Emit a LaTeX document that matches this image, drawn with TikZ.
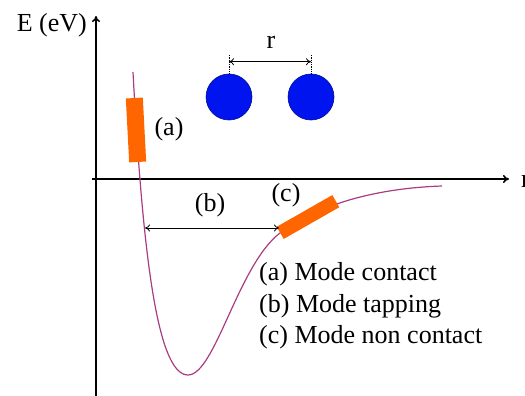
\documentclass[tikz,border=0pt]{standalone}
\usepackage{fontspec}
\setmainfont{Liberation Serif}
\usetikzlibrary{arrows.meta,calc,positioning}
\definecolor{curvecol}{RGB}{170,60,130}
\definecolor{tipcol}{RGB}{255,102,0}
\definecolor{atomcol}{RGB}{0,20,240}

\begin{document}
\begin{tikzpicture}[x=1pt, y=-1pt,
  axis/.style={line width=1.5pt, -{To[length=6pt,width=8pt]}},
  lbl/.style={font=\fontsize{26}{31}\selectfont, inner sep=0pt},
  tipbox/.style={fill=tipcol, draw=none, minimum width=17pt, minimum height=64pt, inner sep=0pt},
  atom/.style={circle, fill=atomcol, draw=atomcol!60!black, line width=0.6pt, minimum size=46pt, inner sep=0pt},
  dist/.style={line width=0.8pt, {To[length=5pt,width=7pt]}-{To[length=5pt,width=7pt]}}]
\useasboundingbox (0,0) rectangle (525,396);
% axes
\coordinate (o) at (96,179);
\coordinate (ytop) at (96,16);
\coordinate (xend) at (509,179);
\draw[axis] (96,396) -- (ytop);
\draw[axis] (92,179) -- (xend);
\node[lbl, anchor=east] (elabel) at (87,25) {E (eV)};
\node[lbl, anchor=west] (rlabel) at (521,181) {r};

% potential curve
\draw[curvecol, line width=1.2pt] (133,72)
  .. controls (143,260) and (158,375) .. (188,375)
  .. controls (215,375) and (238,265) .. (280,233)
  .. controls (320,203) and (380,188) .. (442,186);

% tips (a) and (c)
\node[tipbox, rotate=3] (tipa) at (136,130) {};
\node[tipbox, minimum width=14pt, rotate=-60.3] (tipc) at (308,217) {};
\node[lbl] (la) at (169,129) {(a)};
\node[lbl] (lc) at (286,195) {(c)};

% tapping range (b)
\coordinate (bl) at (145,228);
\coordinate (br) at (279,228);
\draw[dist] (bl) -- (br);
\node[lbl] (lb) at (210,205) {(b)};

% atoms and distance r
\node[atom] (atl) at (229,97) {};
\node[atom] (atr) at (311,97) {};
\coordinate (dl) at ($(atl.north)+(0,-19)$);
\coordinate (dr) at ($(atr.north)+(0,-19)$);
\draw[densely dotted, line width=0.8pt] (atl.north) -- (dl);
\draw[densely dotted, line width=0.8pt] (atr.north) -- (dr);
\draw[dist] ($(atl.north)+(0,-12)$) -- ($(atr.north)+(0,-12)$);
\node[lbl] (lr) at (271,42) {r};

% legend
\node[lbl, anchor=west, align=left, font=\fontsize{26}{31.5}\selectfont] (legend) at (259,306)
  {(a) Mode contact\\(b) Mode tapping\\(c) Mode non contact};
\end{tikzpicture}
\end{document}
